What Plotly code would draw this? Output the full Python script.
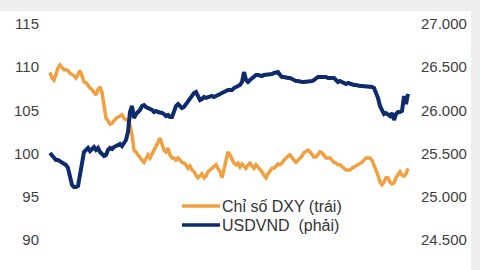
import plotly.graph_objects as go

dxy = [109.4, 108.75, 108.5, 109.2, 109.9, 110.25, 109.9, 109.7, 109.7, 109.6,
       109.3, 109.2, 109.0, 108.75, 109.2, 109.6, 109.0, 108.3, 108.2, 107.8,
       107.6, 107.4, 107.0, 106.8, 107.4, 107.7, 107.1, 105.3, 104.1, 103.8,
       103.4, 103.5, 103.9, 104.1, 104.2, 104.35, 104.5, 104.1, 103.9, 103.8,
       103.3, 102.2, 100.4, 100.2, 99.85, 99.5, 99.25, 99.0, 99.5, 99.85,
       99.5, 99.95, 100.2, 100.65, 101.3, 101.8, 101.1, 100.4, 100.2, 100.65,
       99.85, 99.5, 99.5, 99.25, 99.5, 99.25, 99.0, 98.9, 98.7, 98.3,
       98.55, 98.1, 97.9, 97.5, 97.2, 97.4, 97.65, 97.2, 97.4, 97.9,
       98.1, 98.3, 98.55, 98.7, 98.3, 97.9, 97.2, 98.1, 99.25, 100.2,
       99.85, 99.25, 98.9, 98.7, 98.9, 98.45, 98.8, 98.55, 98.3, 98.7,
       98.9, 98.55, 98.3, 98.7, 98.45, 98.1, 97.9, 97.5, 97.2, 97.65,
       98.0, 98.3, 98.3, 98.55, 98.8, 98.7, 98.9, 99.25, 99.5, 99.7,
       99.85, 99.5, 99.25, 99.0, 99.25, 99.5, 99.7, 100.1, 100.2, 100.4,
       100.2, 99.95, 99.6, 99.6, 99.85, 100.2, 100.1, 99.7, 99.5, 99.5,
       99.5, 99.25, 99.0, 98.9, 98.7, 98.7, 98.55, 98.3, 98.1, 98.1,
       98.1, 98.3, 98.45, 98.55, 98.7, 98.8, 99.0, 99.25, 99.5, 99.5,
       99.5, 99.25, 98.7, 98.3, 97.5, 96.7, 96.4, 96.7, 97.2, 97.2,
       96.7, 96.5, 96.6, 97.2, 97.65, 97.9, 97.5, 97.4, 97.65, 98.3]

usdvnd = [25507, 25484, 25449, 25426, 25426, 25414, 25391, 25391, 25368, 25333,
          25241, 25137, 25113, 25113, 25125, 25252, 25403, 25519, 25542, 25565,
          25530, 25553, 25576, 25542, 25565, 25519, 25495, 25472, 25484, 25542,
          25565, 25553, 25576, 25588, 25600, 25611, 25588, 25634, 25657, 25750,
          25981, 26051, 25912, 25958, 25981, 26005, 26051, 26062, 26039, 26028,
          26005, 26005, 25981, 25993, 25981, 25981, 25970, 25958, 25935, 25947,
          25924, 25924, 25981, 26051, 26074, 26051, 26028, 26039, 26074, 26109,
          26144, 26178, 26201, 26213, 26167, 26120, 26132, 26155, 26144, 26155,
          26155, 26167, 26155, 26167, 26178, 26190, 26201, 26213, 26225, 26236,
          26236, 26236, 26259, 26271, 26282, 26294, 26329, 26444, 26352, 26329,
          26352, 26375, 26398, 26410, 26410, 26398, 26398, 26410, 26410, 26410,
          26410, 26421, 26433, 26444, 26444, 26410, 26387, 26387, 26375, 26375,
          26375, 26363, 26352, 26340, 26340, 26329, 26329, 26329, 26329, 26329,
          26340, 26340, 26352, 26375, 26387, 26387, 26387, 26387, 26387, 26375,
          26375, 26375, 26375, 26352, 26329, 26340, 26329, 26317, 26306, 26317,
          26306, 26294, 26294, 26294, 26282, 26282, 26282, 26282, 26271, 26282,
          26271, 26271, 26259, 26213, 26144, 26051, 26005, 25958, 25970, 25947,
          25935, 25970, 25889, 25958, 25981, 25981, 25993, 26167, 26074, 26190]

x_idx = list(range(len(dxy)))
left_ticks = [90, 95, 100, 105, 110, 115]
right_ticks = [24500, 25000, 25500, 26000, 26500, 27000]
right_labels = ["24.500", "25.000", "25.500", "26.000", "26.500", "27.000"]
series_names = ["Chỉ số DXY (trái)", "USDVND\u00a0\u00a0(phải)"]
ORANGE = "#F0A040"
NAVY = "#0E2B6B"

W, H = 480, 270
n = len(dxy)
px_per = 358 / (n - 1)
xr = [-(50 - 44) / px_per, (n - 1) + (416 - 408) / px_per]

fig = go.Figure()
fig.add_trace(go.Scatter(x=x_idx, y=dxy, mode="lines", name=series_names[0],
                         line=dict(color=ORANGE, width=3.5), yaxis="y"))
fig.add_trace(go.Scatter(x=x_idx, y=usdvnd, mode="lines", name=series_names[1],
                         line=dict(color=NAVY, width=4), yaxis="y2"))

font = "Arial, Liberation Sans, sans-serif"
fig.update_layout(
    template="none",
    width=W, height=H,
    margin=dict(l=0, r=0, t=0, b=0),
    paper_bgcolor="white", plot_bgcolor="white",
    showlegend=False,
    font=dict(family=font, size=15, color="#404040"),
    xaxis=dict(domain=[44 / W, 416 / W], range=xr, visible=False, automargin=False),
    yaxis=dict(domain=[1 - 240 / H, 1 - 24 / H], range=[90, 115],
               tickvals=left_ticks, showgrid=False, zeroline=False,
               showline=False, ticks="", ticklabelstandoff=4, automargin=False),
    yaxis2=dict(domain=[1 - 240 / H, 1 - 24 / H], range=[24500, 27000],
                overlaying="y", side="right", anchor="x",
                tickvals=right_ticks, ticktext=right_labels,
                showgrid=False, zeroline=False, showline=False, ticks="",
                ticklabelstandoff=4, automargin=False),
    shapes=[
        dict(type="rect", xref="paper", yref="paper", x0=0, x1=1,
             y0=1 - 11 / H, y1=1, fillcolor="#efefef", line=dict(width=0), layer="below"),
        dict(type="rect", xref="paper", yref="paper", x0=471 / W, x1=1,
             y0=0, y1=1, fillcolor="#efefef", line=dict(width=0), layer="below"),
        dict(type="line", xref="paper", yref="paper", x0=182 / W, x1=220 / W,
             y0=1 - 206 / H, y1=1 - 206 / H, line=dict(color=ORANGE, width=3.5)),
        dict(type="line", xref="paper", yref="paper", x0=182 / W, x1=220 / W,
             y0=1 - 225 / H, y1=1 - 225 / H, line=dict(color=NAVY, width=3.5)),
    ],
    annotations=[
        dict(xref="paper", yref="paper", x=220 / W, y=1 - 206 / H, text=series_names[0],
             showarrow=False, xanchor="left", yanchor="middle",
             font=dict(size=16, color="#333333", family=font)),
        dict(xref="paper", yref="paper", x=220 / W, y=1 - 225 / H, text=series_names[1],
             showarrow=False, xanchor="left", yanchor="middle",
             font=dict(size=16, color="#333333", family=font)),
    ],
)

fig.write_html("out.html")
